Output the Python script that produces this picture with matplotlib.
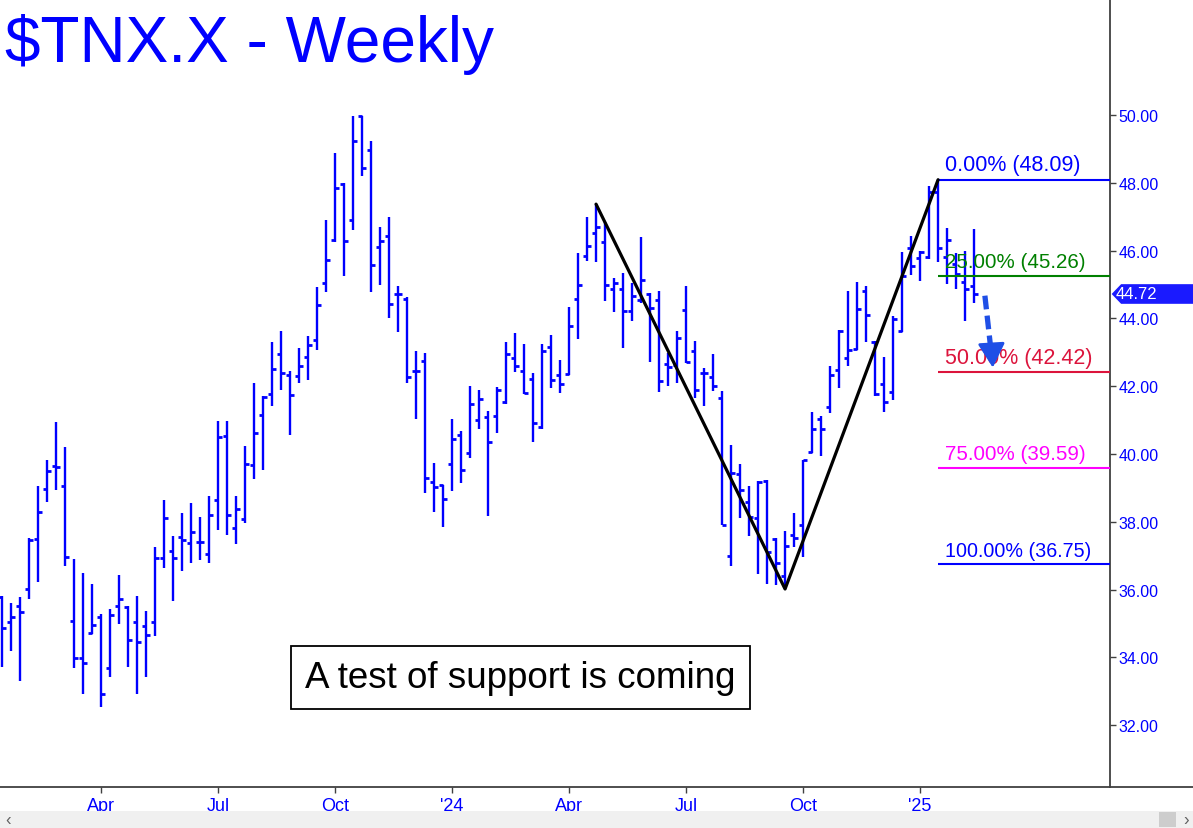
import numpy as np
import pandas as pd
import matplotlib
matplotlib.use("Agg")
import matplotlib.pyplot as plt
from matplotlib.patches import Polygon, Rectangle
from matplotlib.lines import Line2D
from matplotlib.transforms import blended_transform_factory
from matplotlib import font_manager

plt.rcParams['font.family'] = ['Liberation Sans', 'DejaVu Sans']

# ---------------- data ----------------
first_week = '2023-01-20'
opens = [35.78, 35.04, 35.53, 36.01, 37.49, 38.97, 39.65, 39.05, 35.07, 33.97,
         34.71, 35.18, 33.68, 35.51, 35.49, 35.04, 34.92, 35.04, 36.92, 37.13,
         37.54, 37.37, 37.40, 37.05, 38.64, 40.53, 37.82, 38.08, 39.68, 41.15,
         41.77, 42.95, 42.33, 42.29, 42.86, 43.36, 45.04, 46.31, 47.97, 46.89,
         49.96, 48.96, 46.10, 46.42, 44.71, 44.58, 42.44, 42.73, 39.17, 39.08,
         39.71, 40.57, 40.02, 41.00, 41.08, 41.11, 41.53, 42.82, 42.44, 42.21,
         40.79, 43.15, 42.33, 42.36, 44.57, 45.83, 46.52, 46.24, 44.87, 44.87,
         44.21, 44.55, 44.72, 44.54, 42.65, 42.64, 44.25, 43.05, 42.38, 42.26,
         41.64, 36.99, 39.42, 38.60, 38.11, 39.20, 37.49, 36.41, 37.61, 37.91,
         40.07, 41.03, 41.38, 42.48, 42.82, 43.10, 44.80, 43.30, 42.06, 41.84,
         43.64, 46.07, 45.77, 45.80, 47.74, 45.80, 45.60, 45.08, 44.95]
highs = [35.82, 35.60, 35.77, 37.51, 39.05, 39.82, 40.93, 40.20, 36.90, 36.49,
         36.17, 35.28, 35.43, 36.43, 35.51, 35.80, 35.37, 37.25, 38.64, 37.57,
         38.25, 38.55, 38.13, 38.75, 40.96, 40.96, 38.77, 40.25, 42.09, 41.70,
         43.29, 43.64, 42.46, 43.12, 43.47, 44.92, 46.89, 48.87, 47.99, 49.96,
         49.98, 49.22, 46.69, 46.98, 44.95, 44.62, 43.03, 42.97, 39.75, 39.09,
         41.02, 40.69, 42.00, 41.90, 41.26, 41.97, 43.29, 43.57, 43.24, 42.39,
         43.24, 43.51, 42.77, 44.33, 45.92, 46.98, 47.37, 46.83, 45.18, 45.34,
         45.04, 46.39, 44.74, 44.80, 42.98, 43.62, 44.95, 43.32, 42.53, 42.94,
         41.87, 40.27, 39.71, 39.06, 39.19, 39.24, 37.51, 37.72, 38.25, 39.83,
         41.23, 41.13, 42.60, 43.66, 44.80, 45.06, 44.95, 43.34, 42.85, 44.06,
         45.95, 46.44, 46.00, 47.91, 48.09, 46.67, 45.93, 46.00, 46.64]
lows = [33.71, 34.20, 33.31, 35.72, 36.22, 38.59, 38.95, 36.71, 33.68, 32.92,
        34.69, 32.53, 33.41, 34.99, 33.73, 32.92, 33.43, 34.64, 36.63, 35.67,
        36.56, 36.78, 36.88, 36.78, 37.76, 37.61, 37.35, 37.96, 39.26, 39.54,
        41.42, 41.89, 40.57, 42.09, 42.19, 43.08, 44.79, 46.26, 45.26, 46.62,
        48.21, 44.79, 44.99, 44.00, 43.61, 42.09, 41.02, 38.84, 38.28, 37.84,
        38.92, 39.14, 39.87, 40.74, 38.16, 40.61, 41.47, 42.41, 41.77, 40.35,
        40.74, 41.95, 41.79, 42.33, 43.39, 45.70, 45.65, 44.50, 44.20, 43.13,
        43.93, 44.45, 42.72, 41.84, 42.01, 42.09, 42.68, 41.64, 41.41, 41.87,
        37.91, 36.69, 38.10, 37.59, 36.46, 36.17, 36.14, 36.02, 37.25, 36.95,
        40.02, 39.93, 41.21, 41.94, 42.59, 43.07, 43.31, 41.70, 41.23, 41.60,
        43.59, 45.28, 45.11, 45.75, 45.65, 45.00, 44.87, 43.93, 44.45]
closes = [34.86, 35.18, 35.33, 37.46, 38.28, 39.49, 39.63, 36.95, 33.97, 33.83,
          34.95, 32.91, 35.25, 35.71, 34.53, 34.47, 34.65, 36.92, 38.11, 36.92,
          37.46, 37.69, 37.40, 38.20, 40.49, 38.20, 38.38, 39.71, 40.61, 41.67,
          42.50, 42.38, 41.74, 42.59, 43.22, 44.40, 45.72, 47.84, 46.28, 49.22,
          48.43, 45.57, 46.27, 44.42, 44.71, 42.26, 42.44, 39.28, 39.02, 38.66,
          40.43, 39.53, 41.47, 41.62, 40.35, 41.89, 42.95, 42.59, 41.80, 40.91,
          43.03, 42.18, 42.06, 43.77, 44.98, 46.13, 46.69, 44.99, 45.04, 44.21,
          44.65, 45.14, 44.30, 42.14, 42.56, 43.41, 42.71, 41.89, 42.38, 42.00,
          37.92, 39.44, 38.94, 38.13, 39.17, 37.10, 36.78, 37.30, 37.53, 39.82,
          40.74, 40.74, 42.33, 43.64, 43.07, 44.28, 44.10, 41.77, 41.53, 43.98,
          45.26, 45.54, 45.97, 47.74, 46.07, 46.30, 45.31, 44.87, 44.72]

quarter_starts = ['2023-04-01', '2023-07-01', '2023-10-01', '2024-01-01',
                  '2024-04-01', '2024-07-01', '2024-10-01', '2025-01-01']
quarter_labels = ['Apr', 'Jul', 'Oct', "'24", 'Apr', 'Jul', 'Oct', "'25"]

y_ticks = [32, 34, 36, 38, 40, 42, 44, 46, 48, 50]

zigzag_dates = ['2024-04-26', '2024-09-20', '2025-01-17']
zigzag_values = [47.37, 36.02, 48.09]

fib_labels = ['0.00%', '25.00%', '50.00%', '75.00%', '100.00%']
fib_values = [48.09, 45.26, 42.42, 39.59, 36.75]
fib_colors = ['#0000ff', '#008000', '#dc143c', '#ff00ff', '#0000ff']
fib_sizes = [15.5, 14.8, 15.5, 14.8, 14.2]

last_price = 44.72
arrow_from = 44.67
arrow_to = 42.55

note_text = 'A test of support is coming'
title_text = '$TNX.X - Weekly'

# ---------------- figure ----------------
W, H = 1193, 829
fig = plt.figure(figsize=(W / 100, H / 100), dpi=100)
ax = fig.add_axes([0, 41 / H, 1110 / W, 788 / H])

dates = pd.date_range(first_week, periods=len(closes), freq='W-FRI')
x = np.arange(len(closes))
blue = '#0000ff'

ax.vlines(x, lows, highs, color=blue, lw=1.7, capstyle='butt')
ax.hlines(opens, x - 0.42, x, color=blue, lw=2.0)
ax.hlines(closes, x, x + 0.42, color=blue, lw=2.0)

# zigzag
zz_x = dates.searchsorted(pd.to_datetime(zigzag_dates))
ax.plot(zz_x, zigzag_values, color='black', lw=2.3, solid_capstyle='round', zorder=4)

# fib levels
fib_start = zz_x[-1]
for lab, val, col, fs in zip(fib_labels, fib_values, fib_colors, fib_sizes):
    ax.hlines(val, fib_start, 200, color=col, lw=1.5, zorder=3)
    ax.annotate(f'{lab} ({val:.2f})', xy=(fib_start + 0.78, val), xytext=(0, 3.2),
                textcoords='offset points', ha='left', va='bottom',
                fontsize=fs, color=col, zorder=5)

# dashed arrow
ax_x0 = len(closes) + 0.2
ax.plot([ax_x0, ax_x0 + 0.72], [arrow_from, arrow_to + 0.4], color='#1f4fe6',
        lw=3.8, dashes=(2.6, 1.2), solid_capstyle='butt', zorder=6)
ax.annotate('', xy=(ax_x0 + 0.88, arrow_to), xytext=(ax_x0 + 0.78, arrow_to + 0.45),
            arrowprops=dict(arrowstyle='-|>,head_length=0.75,head_width=0.42',
                            color='#1f4fe6', lw=2, shrinkA=0, shrinkB=0,
                            mutation_scale=20), zorder=6)

# note box
ax.text(57.6, 33.42, note_text, fontsize=26.5, ha='center', va='center', color='black',
        bbox=dict(boxstyle='square,pad=0.38', fc='white', ec='black', lw=1.3), zorder=7)

# axes styling
ax.set_xlim(-0.22, 123.1)
ax.set_ylim(30.18, 53.42)
for s in ['top', 'left']:
    ax.spines[s].set_visible(False)
for s in ['right', 'bottom']:
    ax.spines[s].set_color('#404040')
    ax.spines[s].set_linewidth(1.3)
ax.yaxis.tick_right()
ax.set_yticks(y_ticks)
ax.set_yticklabels([f'{v:.2f}' for v in y_ticks])
ax.tick_params(axis='y', direction='out', length=4, width=1, color='#404040',
               labelsize=11.5, labelcolor=blue, pad=2)
ax.set_xticks(dates.searchsorted(pd.to_datetime(quarter_starts)))
ax.set_xticklabels(quarter_labels)
ax.tick_params(axis='x', direction='out', length=4, width=1, color='#404040',
               labelsize=13, labelcolor=blue, pad=3)

installed = {f.name for f in font_manager.fontManager.ttflist}
narrow = [f for f in ['Liberation Sans Narrow', 'DejaVu Sans Condensed'] if f in installed]
for lab in ax.get_xticklabels():
    if narrow:
        lab.set_family([narrow[0], 'Liberation Sans'])
    else:
        lab.set_family(['Liberation Sans'])
        lab.set_fontsize(13)

# price tag on the right axis
tr = blended_transform_factory(ax.transAxes, ax.transData)
tag = Polygon([[1.0015, last_price], [1.010, last_price + 0.29], [1.08, last_price + 0.29],
               [1.08, last_price - 0.29], [1.010, last_price - 0.29]],
              closed=True, transform=tr, fc='#1a1aff', ec='none', clip_on=False, zorder=8)
ax.add_patch(tag)
ax.text(1.0055, last_price, f'{last_price:.2f}', transform=tr, color='white', fontsize=12,
        ha='left', va='center', clip_on=False, zorder=9)

# bottom line continuing to the right edge
fig.add_artist(Line2D([1110 / W, 1.0], [41 / H, 41 / H], color='#404040', lw=1.3))

# scrollbar
fig.add_artist(Rectangle((0, 0), 1, 17 / H, transform=fig.transFigure, fc='#f0f0f0', ec='none'))
fig.add_artist(Rectangle((1159 / W, 1 / H), 17 / W, 15 / H, transform=fig.transFigure,
                         fc='#cdcdcd', ec='none'))
fig.text(8 / W, 8.5 / H, '\u2039', fontsize=12, color='#606060', ha='center', va='center')
fig.text(1186 / W, 8.5 / H, '\u203a', fontsize=12, color='#606060', ha='center', va='center')

# title
fig.text(5 / W, 1 - 62 / H, title_text, fontsize=46, color=blue, ha='left', va='baseline',
         parse_math=False)

fig.savefig('out.png', dpi=100)
